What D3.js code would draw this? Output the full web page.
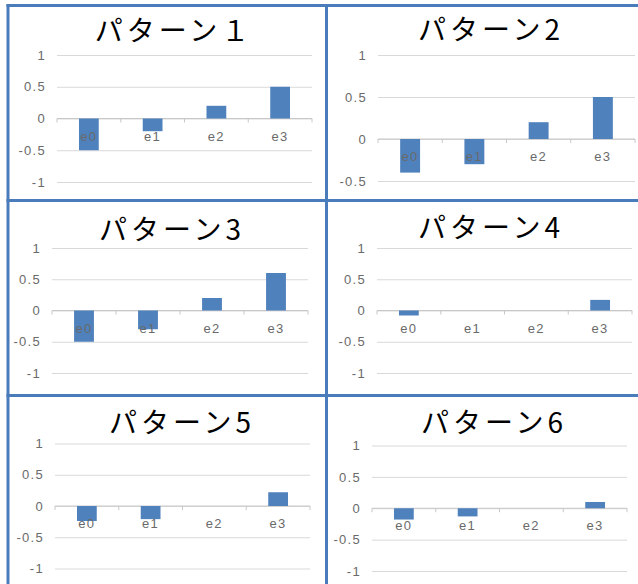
<!DOCTYPE html>
<html>
<head>
<meta charset="utf-8">
<script src="https://cdn.jsdelivr.net/npm/d3@7"></script>
<style>
  body { margin: 0; background: #fff; }
  svg { display: block; }
</style>
</head>
<body>
<svg id="chart" width="638" height="584"></svg>
<script>
// data
var categories = ["e0", "e1", "e2", "e3"];
var titles = ["パターン１", "パターン2", "パターン3", "パターン4", "パターン5", "パターン6"];
var pattern1 = [-0.5, -0.2, 0.2, 0.5];
var pattern2 = [-0.4, -0.3, 0.2, 0.5];
var pattern3 = [-0.5, -0.3, 0.2, 0.6];
var pattern4 = [-0.08, 0, 0, 0.17];
var pattern5 = [-0.24, -0.21, 0, 0.22];
var pattern6 = [-0.18, -0.13, 0, 0.1];
var ticksFull = [1, 0.5, 0, -0.5, -1];
var ticksShort = [1, 0.5, 0, -0.5];

var seriesList = [pattern1, pattern2, pattern3, pattern4, pattern5, pattern6];
var tickList = [ticksFull, ticksShort, ticksFull, ticksFull, ticksFull, ticksFull];

// layout: plot left, right, top (y of 1), bottom (y of lowest tick), title x, title baseline
var layout = [
    {l: 57,  r: 312, t: 55,    b: 182,   tx: 174, ty: 41},
    {l: 378, r: 635, t: 55,    b: 181,   tx: 491, ty: 40},
    {l: 52,  r: 308, t: 248,   b: 373,   tx: 172, ty: 240},
    {l: 377, r: 632, t: 248,   b: 373,   tx: 491, ty: 238},
    {l: 55,  r: 310, t: 443.5, b: 568.5, tx: 182, ty: 433},
    {l: 372, r: 627, t: 445.5, b: 571,   tx: 494, ty: 433}
];

var svg = d3.select("#chart");
var barColor = "#4f81bd";
var gridColor = "#d9d9d9";
var textColor = "#6a6a6a";
var labelFont = "'Liberation Sans', Arial, sans-serif";

seriesList.forEach(function(values, i){
    var lay = layout[i];
    var ticks = tickList[i];
    var g = svg.append("g");

    var x = d3.scaleBand()
        .domain(categories)
        .range([lay.l, lay.r]);
    var y = d3.scaleLinear()
        .domain([d3.min(ticks), d3.max(ticks)])
        .range([lay.b, lay.t]);

    // gridlines + y labels
    var yAxis = d3.axisLeft(y)
        .tickValues(ticks)
        .tickSize(-(lay.r - lay.l))
        .tickPadding(11)
        .tickFormat(function(d){ return String(d); });
    var ya = g.append("g")
        .attr("transform", "translate(" + lay.l + ",0)")
        .call(yAxis);
    ya.select(".domain").remove();
    ya.selectAll("line").attr("stroke", gridColor).attr("stroke-width", 1);
    ya.selectAll("text")
        .attr("fill", textColor)
        .style("font-family", labelFont)
        .style("font-size", "13px")
        .style("letter-spacing", "1.3px");

    // zero axis line and category ticks
    var bounds = categories.map(function(c){ return x(c); }).concat([x.range()[1]]);
    g.append("line")
        .attr("x1", lay.l).attr("x2", lay.r)
        .attr("y1", y(0)).attr("y2", y(0))
        .attr("stroke", "#c8c8c8");
    g.selectAll(".ctick")
        .data(bounds)
        .enter().append("line")
        .attr("x1", function(d){ return d; })
        .attr("x2", function(d){ return d; })
        .attr("y1", y(0))
        .attr("y2", y(0) + 4)
        .attr("stroke", "#c8c8c8");

    // bars
    var bw = x.bandwidth() * 0.31;
    g.selectAll(".bar")
        .data(values)
        .enter().append("rect")
        .attr("x", function(d, k){ return x(categories[k]) + x.bandwidth() / 2 - bw / 2; })
        .attr("y", function(d){ return y(Math.max(0, d)); })
        .attr("width", bw)
        .attr("height", function(d){ return Math.abs(y(d) - y(0)); })
        .attr("fill", barColor);

    // category labels
    var xAxis = d3.axisBottom(x).tickSize(0).tickPadding(13);
    var xa = g.append("g")
        .attr("transform", "translate(0," + y(0) + ")")
        .call(xAxis);
    xa.select(".domain").remove();
    xa.selectAll("text")
        .attr("fill", textColor)
        .style("font-family", labelFont)
        .style("font-size", "13px")
        .style("letter-spacing", "1.3px");

    // title
    g.append("text")
        .attr("x", lay.tx)
        .attr("y", lay.ty)
        .attr("text-anchor", "middle")
        .style("font-family", "'Noto Sans CJK JP', sans-serif")
        .style("font-size", "28px")
        .style("letter-spacing", "4px")
        .attr("fill", "#000")
        .text(titles[i]);
});

// panel borders
var borderColor = "#4a7cbb";
var vLines = [8, 326.5];
var hLines = [5.5, 200.5, 395.5];
svg.selectAll(".vb")
    .data(vLines)
    .enter().append("line")
    .attr("x1", function(d){ return d; })
    .attr("x2", function(d){ return d; })
    .attr("y1", 4).attr("y2", 584)
    .attr("stroke", borderColor).attr("stroke-width", 3);
svg.selectAll(".hb")
    .data(hLines)
    .enter().append("line")
    .attr("x1", 6.5).attr("x2", 638)
    .attr("y1", function(d){ return d; })
    .attr("y2", function(d){ return d; })
    .attr("stroke", borderColor).attr("stroke-width", 3);
</script>
</body>
</html>
